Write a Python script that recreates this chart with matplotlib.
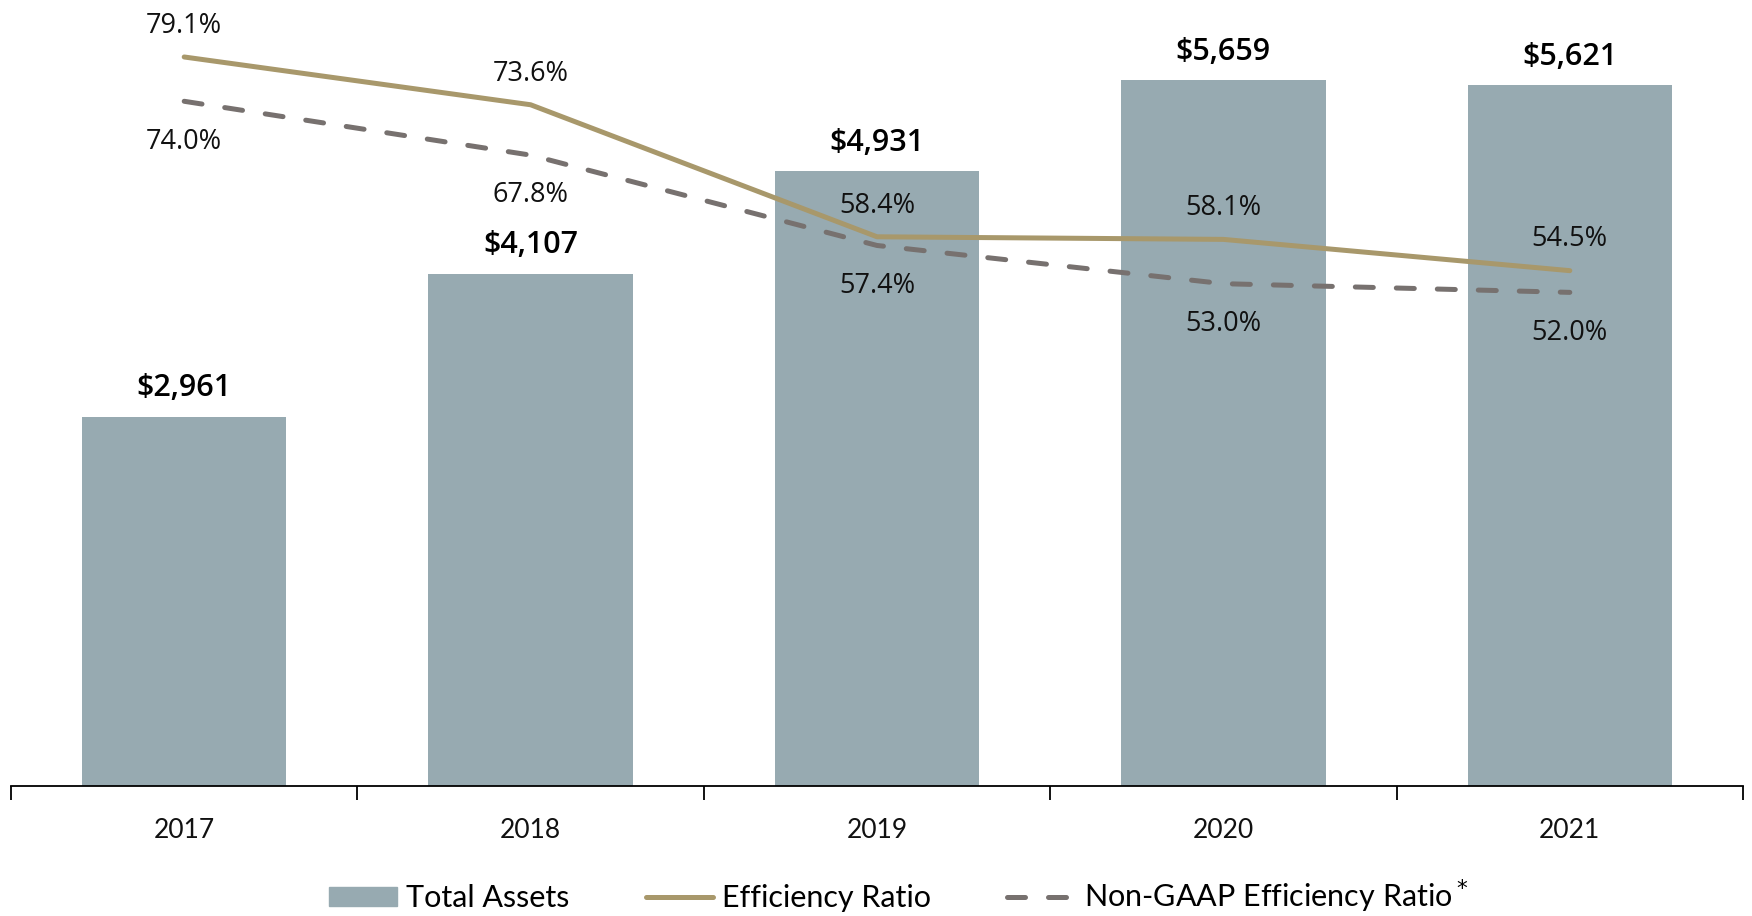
import matplotlib
matplotlib.use('Agg')
import matplotlib.pyplot as plt
from matplotlib.lines import Line2D
from matplotlib.patches import Patch

# dados
anos = ['2017', '2018', '2019', '2020', '2021']
ativos = [2961, 4107, 4931, 5659, 5621]
eficiencia = [79.1, 73.6, 58.4, 58.1, 54.5]
eficiencia_ng = [74.0, 67.8, 57.4, 53.0, 52.0]

cor_barra = '#97AAB1'
cor_linha = '#A8986B'
cor_trac = '#77716F'
fonte_num = 'Open Sans'
fonte_eixo = 'Lato'
tracos = (3.6, 4.6)

fig = plt.figure(figsize=(17.52, 9.16), dpi=100)
ax = fig.add_axes([11/1752, 1 - 786/916, 1732/1752, 786/916])
x = list(range(len(anos)))

ax.bar(x, ativos, width=0.59, color=cor_barra, zorder=1)
ax.set_xlim(-0.5, 4.5)
ax.set_ylim(0, 6303)
for xi, v in zip(x, ativos):
    ax.annotate('${:,}'.format(v), (xi, v), xytext=(0, 20.5), textcoords='offset points',
                ha='center', va='center', fontsize=22, family=fonte_num,
                fontweight='semibold', color='black')

for s in ['top', 'right', 'left']:
    ax.spines[s].set_visible(False)
ax.spines['bottom'].set_linewidth(1.3)
ax.set_yticks([])
ax.set_xticks([-0.5, 0.5, 1.5, 2.5, 3.5, 4.5])
ax.set_xticklabels([])
ax.tick_params(axis='x', which='major', direction='out', length=10, width=1.3)
for xi, a in zip(x, anos):
    ax.annotate(a, (xi, 0), xytext=(0, -32), textcoords='offset points', ha='center',
                va='center', fontsize=19, family=fonte_eixo, color='#111111',
                annotation_clip=False)

ax2 = ax.twinx()
ax2.set_ylim(-4.83, 85.66)
ax2.axis('off')
ax2.plot(x, eficiencia, color=cor_linha, lw=3.6, solid_capstyle='round', zorder=3)
ax2.plot(x, eficiencia_ng, color=cor_trac, lw=3.6, dashes=tracos,
         dash_capstyle='round', zorder=3)
for xi, v in zip(x, eficiencia):
    ax2.annotate('{:.1f}%'.format(v), (xi, v), xytext=(0, 22.5), textcoords='offset points',
                 ha='center', va='center', fontsize=19.5, family=fonte_num, color='#111111')
for xi, v in zip(x, eficiencia_ng):
    ax2.annotate('{:.1f}%'.format(v), (xi, v), xytext=(0, -29), textcoords='offset points',
                 ha='center', va='center', fontsize=19.5, family=fonte_num, color='#111111')

handles = [Patch(color=cor_barra),
           Line2D([], [], color=cor_linha, lw=3.6, solid_capstyle='round'),
           Line2D([], [], color=cor_trac, lw=3.6, dashes=tracos, dash_capstyle='round')]
labels = ['Total Assets', 'Efficiency Ratio', 'Non-GAAP Efficiency Ratio$^*$']
leg = fig.legend(handles, labels, loc='center', bbox_to_anchor=(0.513, 0.022), ncol=3,
                 frameon=False, prop={'family': fonte_eixo, 'size': 22},
                 handlelength=2.2, handleheight=0.6, columnspacing=2.5, handletextpad=0.3)

fig.savefig('out.png', dpi=100)
